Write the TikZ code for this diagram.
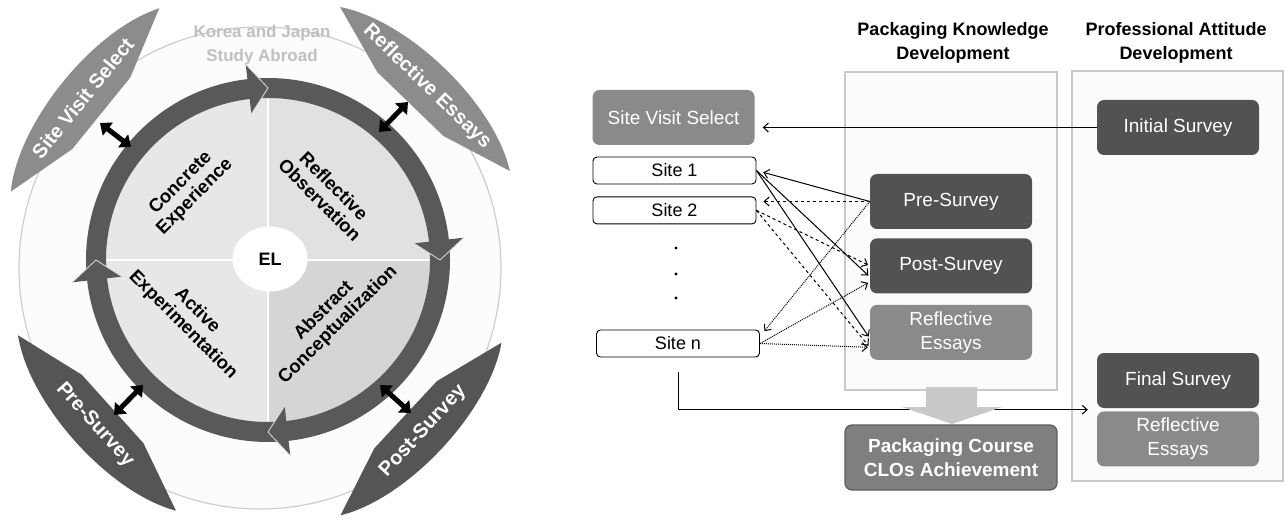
\documentclass[tikz,border=0pt]{standalone}
\usepackage{fontspec}
\setmainfont{Liberation Sans}
\usetikzlibrary{arrows.meta,calc,positioning,shapes.geometric}

\definecolor{ringgray}{HTML}{595959}
\definecolor{leafgray}{HTML}{8C8C8C}
\definecolor{leafdark}{HTML}{555555}
\definecolor{quadA}{HTML}{E7E7E7}
\definecolor{quadB}{HTML}{E1E1E1}
\definecolor{quadC}{HTML}{E7E7E7}
\definecolor{quadD}{HTML}{D5D5D5}
\definecolor{wheelfill}{HTML}{FCFCFC}
\definecolor{wheelline}{HTML}{CDCDCD}
\definecolor{koreagray}{HTML}{C0C0C0}
\definecolor{boxdark}{HTML}{525252}
\definecolor{boxgray}{HTML}{8A8A8A}
\definecolor{clogray}{HTML}{7F7F7F}
\definecolor{cloline}{HTML}{5E5E5E}
\definecolor{panelfill}{HTML}{FBFBFB}
\definecolor{panelline}{HTML}{C9C9C9}
\definecolor{bigarrow}{HTML}{C8C8C8}

\begin{document}
\begin{tikzpicture}[x=1pt,y=1pt]

	\tikzstyle tip edge=[draw=white!75!gray, line width=0.8pt];
	\tikzstyle quad text=[font=\bfseries\fontsize{18.5}{20}\selectfont, align=center];
	\tikzstyle leaf text=[text=white, font=\bfseries\fontsize{20}{22}\selectfont];
	\tikzstyle both ways=[line width=5pt, {Triangle[width=16pt,length=10pt]}-{Triangle[width=16pt,length=10pt]}];
	\tikzstyle panel=[draw=panelline, fill=panelfill, line width=1.2pt];
	\tikzstyle solid box=[rounded corners=7pt, minimum width=162pt, minimum height=55pt, align=center, text=white, font=\fontsize{19}{22}\selectfont];
	\tikzstyle site box=[draw, rounded corners=4pt, line width=0.9pt, minimum width=163pt, minimum height=27pt, font=\fontsize{18}{20}\selectfont];
	\tikzstyle link=[line width=1pt, -{Straight Barb[length=5pt,width=9pt]}];
	\tikzstyle head text=[font=\bfseries\fontsize{18}{24}\selectfont, align=center];

	\useasboundingbox (0,0) rectangle (1284,520);

	% experiential learning wheel
	\fill[wheelfill, draw=wheelline, line width=1.2pt] (260,252) circle (241pt);
	\node[font=\bfseries\fontsize{17}{24}\selectfont, text=koreagray, align=center] (korea) at (262,475) {Korea and Japan\\Study Abroad};

	\coordinate (C) at (268,260);
	\foreach \a/\c in {90/quadA,0/quadB,180/quadC,270/quadD}
		\fill[\c] (C) -- ++(\a:162pt) arc (\a:\a+90:162pt) -- cycle;
	\draw[white, line width=1.2pt] ($(C)+(0,162)$) -- ($(C)+(0,-162)$);
	\draw[white, line width=1.2pt] ($(C)+(-162,0)$) -- ($(C)+(162,0)$);

	\fill[ringgray, even odd rule] (C) circle (182pt) (C) circle (162pt);
	\foreach \e in {90,0,-90,180} {
		\fill[ringgray] ($(C)+(\e+6.5:197pt)$) -- ($(C)+(\e:172pt)$) -- ($(C)+(\e+6.5:147pt)$) -- cycle;
		\draw[tip edge] ($(C)+(\e+6.5:197pt)$) -- ($(C)+(\e:172pt)$) -- ($(C)+(\e+6.5:147pt)$);
	}

	\node[ellipse, fill=white, minimum width=75pt, minimum height=65pt, font=\bfseries\fontsize{18}{20}\selectfont] (el) at (270,261) {EL};

	\node[quad text, rotate=45] (ce) at (188,330) {Concrete\\Experience};
	\node[quad text, rotate=-45] (ro) at (327,327) {Reflective\\Observation};
	\node[quad text, rotate=-45] (ae) at (190,202) {Active\\Experimentation};
	\node[quad text, rotate=45] (ac) at (331,202) {Abstract\\Conceptualization};

	% side banners, \s = 1 when local +y points away from the wheel
	\foreach \cx/\cy/\ang/\s/\col/\txt [count=\i] in {85/420/51/1/leafgray/Site Visit Select,425/431/-44/1/leafgray/Reflective Essays,97/97/-48/-1/leafdark/Pre-Survey,421/91/47/-1/leafdark/Post-Survey} {
		\begin{scope}[shift={(\cx,\cy)}, rotate=\ang]
			\fill[\col] (-118,0) -- (-46,-21*\s) -- (46,-21*\s) -- (118,0) .. controls (60,38*\s) and (-60,38*\s) .. (-118,0) -- cycle;
			\node[leaf text, rotate=\ang] (leaf\i) at (0,3*\s) {\txt};
		\end{scope}
	}

	\coordinate (svA) at (100,397); \coordinate (svB) at (131,373);
	\coordinate (reA) at (379,388); \coordinate (reB) at (408,418);
	\coordinate (prA) at (114,105); \coordinate (prB) at (143,135);
	\coordinate (poA) at (380,135); \coordinate (poB) at (411,107);
	\draw[both ways] (svA) -- (svB);
	\draw[both ways] (reA) -- (reB);
	\draw[both ways] (prA) -- (prB);
	\draw[both ways] (poA) -- (poB);

	% study design
	\node[head text] (pkd) at (953,477) {Packaging Knowledge\\Development};
	\node[head text] (pad) at (1176,477) {Professional Attitude\\Development};
	\draw[panel] (845,130) rectangle (1057,448);
	\draw[panel] (1072,39) rectangle (1283,449);

	\node[solid box, fill=boxgray] (sv) at (673.5,402.5) {Site Visit Select};
	\node[site box] (s1) at (674.5,349.5) {Site 1};
	\node[site box, below=12pt of s1] (s2) {Site 2};
	\foreach \y in {272,246,222}
		\fill (676,\y) circle (1.6pt);
	\node[site box] (sn) at (678,176.5) {Site n};

	\node[solid box, fill=boxdark] (pre) at (951,318.5) {Pre-Survey};
	\node[solid box, fill=boxdark, below=9pt of pre] (post) {Post-Survey};
	\node[solid box, fill=boxgray, below=11pt of post, font=\fontsize{19}{24}\selectfont] (resM) {Reflective\\Essays};

	\node[solid box, fill=boxdark] (init) at (1178,392.5) {Initial Survey};
	\node[solid box, fill=boxdark] (final) at (1178,139.5) {Final Survey};
	\node[solid box, fill=boxgray, below=3pt of final, font=\fontsize{19}{24}\selectfont] (resR) {Reflective\\Essays};

	\draw[link, shorten >=8pt] (init.west) -- (init.west -| sv.east);

	\draw[link, shorten >=7pt] (pre.west) -- (s1.east);
	\draw[link, shorten >=2pt] (s1.east) -- ([yshift=-11pt]post.west);
	\draw[link, shorten >=2pt] (s1.east) -- ([yshift=-6pt]resM.west);
	\draw[link, dashed, shorten >=7pt] (pre.west) -- (pre.west -| s2.east);
	\draw[link, dashed, shorten >=2pt] (s2.east) -- (post.west);
	\draw[link, dashed, shorten >=2pt] (s2.east) -- ([yshift=-15pt]resM.west);
	\draw[link, densely dotted, shorten >=7pt] (pre.west) -- ([yshift=7pt]sn.east);
	\draw[link, densely dotted, shorten >=2pt] (sn.east) -- ([yshift=-16pt]post.west);
	\draw[link, densely dotted, shorten >=2pt] (sn.east) -- ([yshift=-15pt]resM.west);

	\coordinate (gap) at ($(final.south west)!0.5!(resR.north west)+(-9,0)$);
	\draw[link] ([yshift=-15pt]sn.south) |- (gap);

	\fill[bigarrow] (926,133) -- (977,133) -- (977,113) -- (1002,113) -- (952,96) -- (902,113) -- (926,113) -- cycle;
	\node[solid box, fill=clogray, draw=cloline, line width=1.3pt, minimum width=212pt, minimum height=65pt, font=\bfseries\fontsize{19}{24}\selectfont] (clo) at (951,62.5) {Packaging Course\\CLOs Achievement};

\end{tikzpicture}
\end{document}
